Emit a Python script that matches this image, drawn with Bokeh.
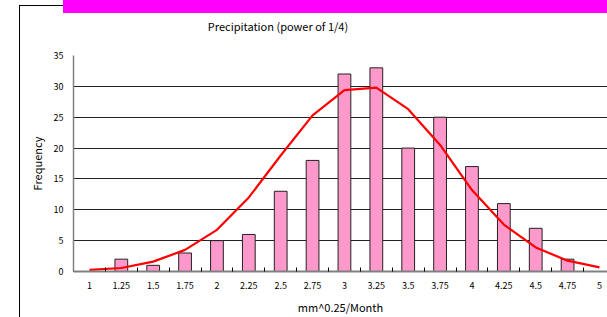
from bokeh.plotting import figure
from bokeh.models import Range1d, FixedTicker, Div
from bokeh.layouts import column
from bokeh.embed import file_html
from bokeh.resources import INLINE

categories = ["1", "1.25", "1.5", "1.75", "2", "2.25", "2.5", "2.75", "3",
              "3.25", "3.5", "3.75", "4", "4.25", "4.5", "4.75", "5"]
frequency = [0, 2, 1, 3, 5, 6, 13, 18, 32, 33, 20, 25, 17, 11, 7, 2, 0]
fitted = [0.25, 0.57, 1.6, 3.5, 6.75, 12.0, 18.8, 25.3, 29.4, 29.8, 26.3,
          20.5, 13.2, 7.6, 3.9, 1.75, 0.67]
y_ticks = [0, 5, 10, 15, 20, 25, 30, 35]
chart_title = "Precipitation (power of 1/4)"

xs = [float(c) for c in categories]
boundaries = [x + 0.125 for x in xs[:-1]] + [xs[0] - 0.125]

FONT = "Noto Sans CJK JP"

p = figure(width=607, height=317, output_backend="svg", toolbar_location=None,
           x_range=Range1d(0.875, 5.063), y_range=Range1d(0, 35),
           min_border_left=73, min_border_right=0, min_border_top=55,
           min_border_bottom=46)
p.outline_line_color = None
p.background_fill_color = "white"
p.border_fill_color = "white"

p.vbar(x=xs, top=frequency, width=0.1, fill_color="#FF99CC",
       line_color="#222222", line_width=1)
p.line(xs, fitted, line_color="#FF0000", line_width=2.2)

p.xgrid.visible = False
p.ygrid.ticker = FixedTicker(ticks=y_ticks)
p.ygrid.grid_line_color = "#222222"
p.ygrid.grid_line_width = 1

xa = p.xaxis[0]
xa.ticker = FixedTicker(ticks=xs, minor_ticks=boundaries)
xa.major_label_overrides = {x: c for x, c in zip(xs, categories)}
xa.major_tick_in = 0
xa.major_tick_out = 0
xa.minor_tick_in = 4
xa.minor_tick_out = 0
xa.minor_tick_line_color = "#000000"
xa.axis_line_color = "#808080"
xa.axis_line_width = 2
xa.major_label_text_font = FONT
xa.major_label_text_font_size = "9px"
xa.major_label_text_color = "#000000"
xa.major_label_standoff = 10
xa.axis_label = "mm^0.25/Month"
xa.axis_label_text_font = FONT
xa.axis_label_text_font_size = "11px"
xa.axis_label_text_font_style = "normal"
xa.axis_label_text_color = "#000000"
xa.axis_label_standoff = 7

ya = p.yaxis[0]
ya.ticker = FixedTicker(ticks=y_ticks)
ya.major_tick_in = 0
ya.major_tick_out = 0
ya.minor_tick_in = 0
ya.minor_tick_out = 0
ya.axis_line_color = "#808080"
ya.axis_line_width = 1.5
ya.major_label_text_font = FONT
ya.major_label_text_font_size = "9px"
ya.major_label_text_color = "#000000"
ya.major_label_standoff = 10
ya.axis_label = "Frequency"
ya.axis_label_text_font = FONT
ya.axis_label_text_font_size = "11px"
ya.axis_label_text_font_style = "normal"
ya.axis_label_text_color = "#000000"
ya.axis_label_standoff = 6

frame = Div(width=588, height=312, margin=0,
            styles={"position": "absolute", "left": "19px", "top": "5px",
                    "border-left": "1px solid #000000",
                    "border-top": "1px solid #000000",
                    "box-sizing": "border-box"})
banner = Div(width=544, height=13, margin=0,
             styles={"position": "absolute", "left": "63px", "top": "0px",
                     "background-color": "#FF00FF"})
title = Div(text=chart_title, width=220, height=14, margin=0,
            styles={"position": "absolute", "left": "168px", "top": "19px",
                    "text-align": "center", "font-family": FONT,
                    "font-size": "11px", "line-height": "14px",
                    "color": "#000000", "white-space": "nowrap"})
root = column(p, frame, banner, title,
              styles={"position": "absolute", "left": "0px", "top": "0px"})

open("out.html", "w").write(file_html(root, INLINE))
